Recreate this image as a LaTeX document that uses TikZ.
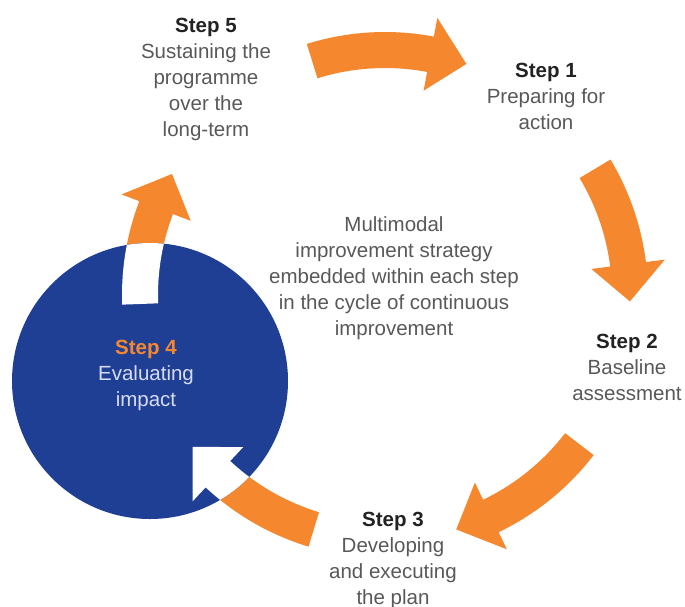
\documentclass[tikz,border=0pt]{standalone}
\usepackage{fontspec}
\setmainfont{Liberation Sans}
\definecolor{cycleorange}{HTML}{F5872F}
\definecolor{cycleblue}{HTML}{1F3F95}
\definecolor{bodygrey}{HTML}{595959}
\definecolor{stepdark}{HTML}{222222}
\definecolor{innerlight}{HTML}{D8DCF2}
\tikzset{
  steplabel/.style={align=center,inner sep=0pt,anchor=north,text=bodygrey,
    font=\fontsize{20.5}{26}\selectfont},
  stephead/.style={text=stepdark}
}
% tail angle / head base angle of each arrow on the cycle
\def\arrowlist{-107.3/-79.3,-31/-7.2,37.5/64.4,106.9/133,177.9/200.9}
\begin{document}
\begin{tikzpicture}[x=1pt,y=-1pt]
  \useasboundingbox (0,0) rectangle (685,606);
  \fill[white] (0,0) rectangle (685,606);
  \begin{scope}[shift={(385,295)}]
    \foreach \t/\b in \arrowlist
      \fill[cycleorange] (\t:263) arc[start angle=\t,end angle=\b,radius=263]
        -- (\b:282) -- ({\b+8.7}:245) -- (\b:208) -- (\b:227)
        arc[start angle=\b,end angle=\t,radius=227] -- cycle;
  \end{scope}
  \fill[cycleblue] (150,381) circle[radius=138];
  \begin{scope}
    \clip (150,381) circle[radius=138];
    \begin{scope}[shift={(385,295)}]
      \foreach \t/\b in \arrowlist
        \fill[white] (\t:263) arc[start angle=\t,end angle=\b,radius=263]
          -- (\b:282) -- ({\b+8.7}:245) -- (\b:208) -- (\b:227)
          arc[start angle=\b,end angle=\t,radius=227] -- cycle;
    \end{scope}
  \end{scope}
  % labels
  \node[steplabel] (step5) at (206,18)
    {\textcolor{stepdark}{\bfseries Step 5}\\Sustaining the\\programme\\over the\\long-term};
  \node[steplabel] (step1) at (546,63)
    {\textcolor{stepdark}{\bfseries Step 1}\\Preparing for\\action};
  \node[steplabel] (step2) at (627,334)
    {\textcolor{stepdark}{\bfseries Step 2}\\Baseline\\assessment};
  \node[steplabel] (step3) at (393,512)
    {\textcolor{stepdark}{\bfseries Step 3}\\Developing\\and executing\\the plan};
  \node[steplabel,text=innerlight] (step4) at (146,340)
    {\textcolor{cycleorange}{\bfseries Step 4}\\Evaluating\\impact};
  \node[steplabel] (centre) at (394,216)
    {Multimodal\\improvement strategy\\embedded within each step\\in the cycle of continuous\\improvement};
\end{tikzpicture}
\end{document}
